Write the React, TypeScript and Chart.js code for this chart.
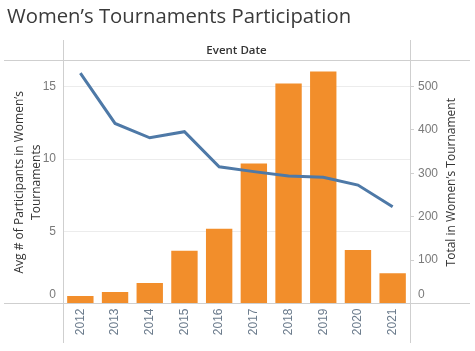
import { useEffect, useRef } from 'react';
import { Chart, registerables } from 'chart.js';

Chart.register(...registerables);

const years = ['2012', '2013', '2014', '2015', '2016', '2017', '2018', '2019', '2020', '2021'];
const avgParticipants = [0.52, 0.8, 1.42, 3.65, 5.17, 9.7, 15.24, 16.08, 3.7, 2.1];
const totalParticipants = [531, 415, 382, 396, 315, 304, 294, 291, 273, 223];
const leftTickValues = [0, 5, 10, 15];
const rightTickValues = [0, 100, 200, 300, 400, 500];

const chartTitle = 'Women\u2019s Tournaments Participation';
const headerText = 'Event Date';
const leftTitleLines = ['Avg # of Participants in Women\u2019s', 'Tournaments'];
const rightTitle = 'Total in Women\u2019s Tournament';

const W = 475;
const H = 351;
const PLOT_LEFT = 63;
const PLOT_RIGHT = 410;
const PLOT_TOP = 61;
const PLOT_BOTTOM = 303.5;

const TICK_FONT = '"Liberation Sans", Arial, sans-serif';
const TEXT_FONT = '"Open Sans", "Noto Sans", sans-serif';

const decorPlugin = {
  id: 'decor',
  afterDraw(chart: any) {
    const ctx = chart.ctx as CanvasRenderingContext2D;
    ctx.save();
    // title
    ctx.fillStyle = '#3a3a3a';
    ctx.font = `20.3px ${TEXT_FONT}`;
    ctx.textAlign = 'left';
    ctx.textBaseline = 'middle';
    ctx.fillText(chartTitle, 7, 17);

    // header
    ctx.fillStyle = '#333333';
    ctx.font = `600 11.5px ${TEXT_FONT}`;
    ctx.textAlign = 'center';
    ctx.fillText(headerText, (PLOT_LEFT + PLOT_RIGHT) / 2, 51);

    // lines
    ctx.strokeStyle = '#cfcfcf';
    ctx.lineWidth = 1;
    ctx.beginPath();
    ctx.moveTo(4, 60.5);
    ctx.lineTo(470, 60.5);
    ctx.moveTo(4, 303.5);
    ctx.lineTo(470, 303.5);
    ctx.moveTo(PLOT_LEFT + 0.5, 40);
    ctx.lineTo(PLOT_LEFT + 0.5, 343);
    ctx.moveTo(PLOT_RIGHT + 0.5, 40);
    ctx.lineTo(PLOT_RIGHT + 0.5, 343);
    ctx.stroke();

    // left axis title
    ctx.fillStyle = '#333333';
    ctx.font = `12px ${TEXT_FONT}`;
    ctx.textAlign = 'center';
    ctx.textBaseline = 'middle';
    const cy = (PLOT_TOP + PLOT_BOTTOM) / 2;
    ctx.save();
    ctx.translate(20, cy);
    ctx.rotate(-Math.PI / 2);
    ctx.fillText(leftTitleLines[0], 0, 0);
    ctx.fillText(leftTitleLines[1], 0, 17);
    ctx.restore();

    // right axis title
    ctx.save();
    ctx.translate(452, cy);
    ctx.rotate(-Math.PI / 2);
    ctx.fillText(rightTitle, 0, 0);
    ctx.restore();

    // zero labels (nudged up like the original)
    ctx.fillStyle = '#7a7a7a';
    ctx.font = `12px ${TICK_FONT}`;
    ctx.textAlign = 'right';
    ctx.fillText(String(leftTickValues[0]), 56, 295);
    ctx.textAlign = 'left';
    ctx.fillText(String(rightTickValues[0]), 418, 295);
    ctx.restore();
  },
};

export default function App() {
  const canvasRef = useRef<HTMLCanvasElement | null>(null);

  useEffect(() => {
    const canvas = canvasRef.current;
    if (!canvas) return;
    const chart = new Chart(canvas, {
      type: 'bar',
      data: {
        labels: years,
        datasets: [
          {
            type: 'line',
            label: 'Total in Women\u2019s Tournament',
            data: totalParticipants,
            yAxisID: 'yRight',
            borderColor: '#4e79a7',
            backgroundColor: '#4e79a7',
            borderWidth: 3,
            pointRadius: 0,
            tension: 0,
            order: 0,
          } as any,
          {
            type: 'bar',
            label: 'Avg # of Participants',
            data: avgParticipants,
            yAxisID: 'yLeft',
            backgroundColor: '#f28e2b',
            barPercentage: 0.76,
            categoryPercentage: 1,
            order: 1,
          } as any,
        ],
      },
      options: {
        responsive: false,
        animation: false,
        layout: { padding: { top: PLOT_TOP, left: 0, right: 0, bottom: 0 } },
        plugins: {
          legend: { display: false },
          tooltip: { enabled: false },
          title: { display: false },
        },
        scales: {
          x: {
            position: 'bottom',
            border: { display: false },
            grid: { display: false, drawTicks: false },
            ticks: {
              minRotation: 90,
              maxRotation: 90,
              padding: 5,
              color: '#6b7b8c',
              font: { family: TICK_FONT, size: 12 },
            },
            afterFit: (scale: any) => {
              scale.height = H - PLOT_BOTTOM;
            },
          },
          yLeft: {
            position: 'left',
            min: 0,
            max: 16.8,
            border: { display: false },
            grid: { color: '#ececec', drawTicks: false },
            afterBuildTicks: (scale: any) => {
              scale.ticks = leftTickValues.map((v) => ({ value: v }));
            },
            ticks: {
              padding: 7,
              color: '#7a7a7a',
              font: { family: TICK_FONT, size: 12 },
              callback: (v: any) => (v === 0 ? '' : String(v)),
            },
            afterFit: (scale: any) => {
              scale.width = PLOT_LEFT;
            },
          },
          yRight: {
            position: 'right',
            min: 0,
            max: 559,
            border: { display: false },
            grid: { drawOnChartArea: false, drawTicks: true, tickLength: 4, color: '#d0d0d0' },
            afterBuildTicks: (scale: any) => {
              scale.ticks = rightTickValues.map((v) => ({ value: v }));
            },
            ticks: {
              padding: 4,
              color: '#7a7a7a',
              font: { family: TICK_FONT, size: 12 },
              callback: (v: any) => (v === 0 ? '' : String(v)),
            },
            afterFit: (scale: any) => {
              scale.width = W - PLOT_RIGHT;
            },
          },
        },
      },
      plugins: [decorPlugin],
    });
    return () => chart.destroy();
  }, []);

  return (
    <div style={{ position: 'absolute', left: 0, top: 0, width: W, height: H, background: '#fff' }}>
      <canvas ref={canvasRef} width={W} height={H} style={{ display: 'block' }} />
    </div>
  );
}
